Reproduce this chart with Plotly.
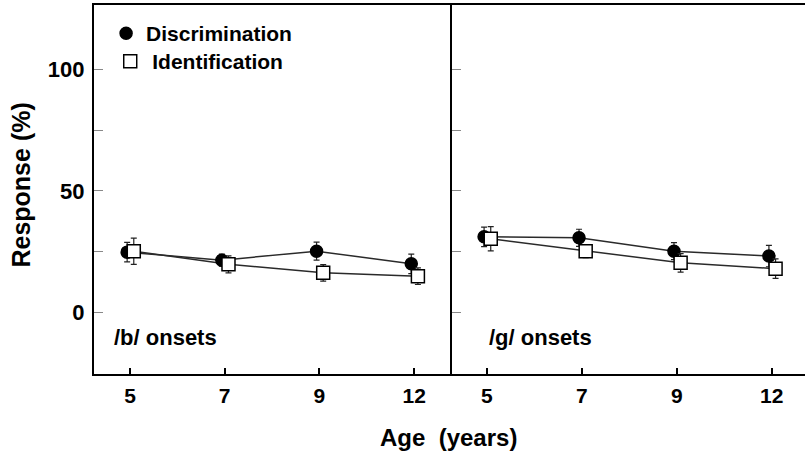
import plotly.graph_objects as go

ages = ["5", "7", "9", "12"]

b_disc = [24.8, 21.5, 25.2, 20.0]
b_disc_err = [4.0, 2.5, 3.7, 4.0]
b_ident = [25.2, 19.8, 16.3, 14.9]
b_ident_err = [5.4, 3.5, 3.4, 3.4]

g_disc = [31.1, 30.7, 25.2, 23.2]
g_disc_err = [4.0, 3.5, 3.5, 4.4]
g_ident = [30.3, 25.2, 20.4, 18.0]
g_ident_err = [5.0, 2.7, 3.8, 4.0]

panel_labels = ["/b/ onsets", "/g/ onsets"]

FONT = "Liberation Sans, Arial, sans-serif"
idx = list(range(len(ages)))
off_d, off_i = -0.03, 0.04

fig = go.Figure()

def add_lines(xa, ya, vals, off):
    fig.add_trace(go.Scatter(
        x=[i + off for i in idx], y=vals, xaxis=xa, yaxis=ya, mode="lines",
        showlegend=False, hoverinfo="skip",
        line=dict(color="#2a2a2a", width=1.5)))

def add_markers(xa, ya, vals, errs, name, symbol, fill, off, show, leg):
    fig.add_trace(go.Scatter(
        x=[i + off for i in idx], y=vals,
        xaxis=xa, yaxis=ya, name=name, showlegend=show, legend=leg, mode="markers",
        marker=dict(symbol=symbol, size=12 if symbol == "circle" else 13,
                    color=fill, line=dict(color="black", width=1.5)),
        error_y=dict(type="data", array=errs, visible=True, color="#222",
                     thickness=1.2, width=3),
    ))

add_lines("x", "y", b_disc, off_d)
add_lines("x", "y", b_ident, off_i)
add_lines("x2", "y2", g_disc, off_d)
add_lines("x2", "y2", g_ident, off_i)
add_markers("x", "y", b_disc, b_disc_err, "Discrimination", "circle", "black", off_d, True, "legend")
add_markers("x", "y", b_ident, b_ident_err, "Identification", "square", "white", off_i, True, "legend2")
add_markers("x2", "y2", g_disc, g_disc_err, "Discrimination", "circle", "black", off_d, False, "legend")
add_markers("x2", "y2", g_ident, g_ident_err, "Identification", "square", "white", off_i, False, "legend2")

d1 = (452 - 94) / 711
xcommon = dict(tickmode="array", tickvals=idx, ticktext=ages, ticks="inside",
               ticklen=6, tickwidth=1.5, tickcolor="black", showline=True,
               linecolor="black", linewidth=1.5, mirror=True, showgrid=False,
               zeroline=False, ticklabelstandoff=2,
               tickfont=dict(family=FONT, size=21, color="black", weight="bold"))
ycommon = dict(range=[-25.3, 126.4], tickmode="array", tickvals=[0, 25, 50, 75, 100],
               ticks="inside", ticklen=9, tickwidth=1, tickcolor="#888",
               showline=True, linecolor="black", linewidth=2.2, showgrid=False,
               zeroline=False, ticklabelstandoff=3,
               tickfont=dict(family=FONT, size=22, color="black", weight="bold"))

legfont = dict(family=FONT, size=21, color="black", weight="bold")

fig.update_layout(
    width=805, height=458, paper_bgcolor="white", plot_bgcolor="white",
    margin=dict(l=94, r=0, t=5, b=84),
    xaxis=dict(domain=[0, d1], range=[-0.38, 3.40], **xcommon),
    xaxis2=dict(domain=[d1, 1], range=[-0.368, 3.35], **xcommon),
    yaxis=dict(anchor="x", ticktext=["0", "", "50", "", "100"], **ycommon),
    yaxis2=dict(anchor="x2", ticktext=["", "", "", "", ""], **ycommon),
    showlegend=True,
    legend=dict(x=0.017, y=0.9783, xanchor="left", yanchor="top",
                bgcolor="rgba(0,0,0,0)", font=legfont, itemwidth=30),
    legend2=dict(x=0.020, y=0.9024, xanchor="left", yanchor="top",
                 bgcolor="rgba(0,0,0,0)", font=legfont, itemwidth=34),
    annotations=[
        dict(text=panel_labels[0], xref="x domain", yref="y", x=0.05, y=-10.3,
             xanchor="left", yanchor="middle", showarrow=False,
             font=dict(family=FONT, size=22, color="black", weight="bold")),
        dict(text=panel_labels[1], xref="x2 domain", yref="y2", x=0.10, y=-10.3,
             xanchor="left", yanchor="middle", showarrow=False,
             font=dict(family=FONT, size=22, color="black", weight="bold")),
        dict(text="Response (%)", xref="paper", yref="paper", x=-0.102, y=0.512,
             textangle=-90, showarrow=False, xanchor="center", yanchor="middle",
             font=dict(family=FONT, size=25, color="black", weight="bold")),
        dict(text="Age\u00a0\u00a0(years)", xref="paper", yref="paper", x=0.498,
             y=-0.173, showarrow=False, xanchor="center", yanchor="middle",
             font=dict(family=FONT, size=24, color="black", weight="bold")),
    ],
)

fig.write_html("out.html", config={"displayModeBar": False},
               post_script="document.body.style.margin='0';")
